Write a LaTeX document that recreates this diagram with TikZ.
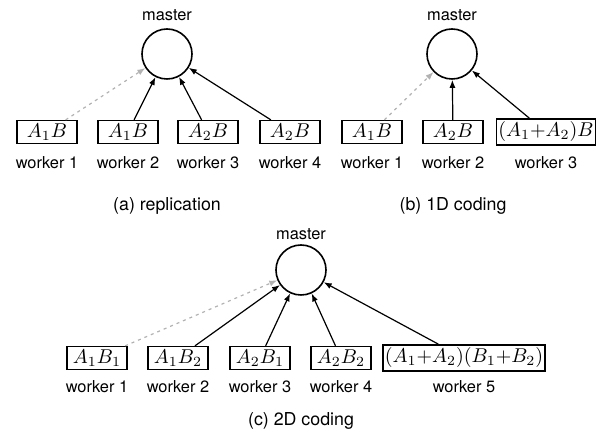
\documentclass[tikz,border=0pt]{standalone}
\usepackage{fontspec}
\setmainfont{TeX Gyre Heros}
\usetikzlibrary{arrows.meta,positioning}

\tikzset{
  master/.style={circle,draw,thick,minimum size=25pt,inner sep=0pt},
  task/.style={draw,thick,minimum width=30pt,minimum height=11pt,inner xsep=1pt,inner ysep=1.5pt,font=\fontsize{10}{12}\selectfont},
  lbl/.style={font=\fontsize{8.2}{10}\selectfont,inner sep=0pt},
  caption/.style={font=\fontsize{8.9}{11}\selectfont,inner sep=0pt},
  result/.style={-{Latex[length=4pt,width=3pt]},semithick},
  slow/.style={-{Latex[length=4pt,width=3pt]},semithick,gray!60,dash pattern=on 1.5pt off 2pt},
}

\begin{document}
\begin{tikzpicture}[x=0.5pt,y=-0.5pt]
   \useasboundingbox (0,0) rectangle (601,432);
   % (a) replication
   \node (ma) [master] at (167,54) {};
   \node [lbl] at (167,15) {master};
   \begin{scope}[every node/.style={task}]
    \node (a1) at (47,132)  {$A_1B$};
    \node (a2) at (128,132) {$A_1B$};
    \node (a3) at (208,132) {$A_2B$};
    \node (a4) at (290,132) {$A_2B$};
   \end{scope}
   \foreach \i/\x in {1/47,2/128,3/208,4/290}
    \node [lbl] at (\x,163) {worker \i};
   \node [caption] at (167,206) {(a) replication};
   \draw [slow] (a1) -- (ma);
   \draw [result] (a2) -- (ma);
   \draw [result] (a3) -- (ma);
   \draw [result] (a4) -- (ma);

   % (b) 1D coding
   \node (mb) [master] at (452,54) {};
   \node [lbl] at (452,15) {master};
   \begin{scope}[every node/.style={task}]
    \node (b1) at (372,132) {$A_1B$};
    \node (b2) at (453,132) {$A_2B$};
    \node (b3) at (546,132) {$(A_1{+}A_2)B$};
   \end{scope}
   \foreach \i/\x in {1/372,2/453,3/546}
    \node [lbl] at (\x,163) {worker \i};
   \node [caption] at (453,206) {(b) 1D coding};
   \draw [slow] (b1) -- (mb);
   \draw [result] (b2) -- (mb);
   \draw [result] (b3) -- (mb);

   % (c) 2D coding
   \node (mc) [master] at (301,270) {};
   \node [lbl] at (301,234) {master};
   \begin{scope}[every node/.style={task}]
    \node (c1) at (97,358)  {$A_1B_1$};
    \node (c2) at (178,358) {$A_1B_2$};
    \node (c3) at (260,358) {$A_2B_1$};
    \node (c4) at (341,358) {$A_2B_2$};
    \node (c5) at (464,358) {$(A_1{+}A_2)(B_1{+}B_2)$};
   \end{scope}
   \foreach \i/\x in {1/97,2/178,3/260,4/341,5/464}
    \node [lbl] at (\x,387) {worker \i};
   \node [caption] at (301,421) {(c) 2D coding};
   \draw [slow] (c1) -- (mc);
   \foreach \j in {2,...,5}
    \draw [result] (c\j) -- (mc);
\end{tikzpicture}
\end{document}
